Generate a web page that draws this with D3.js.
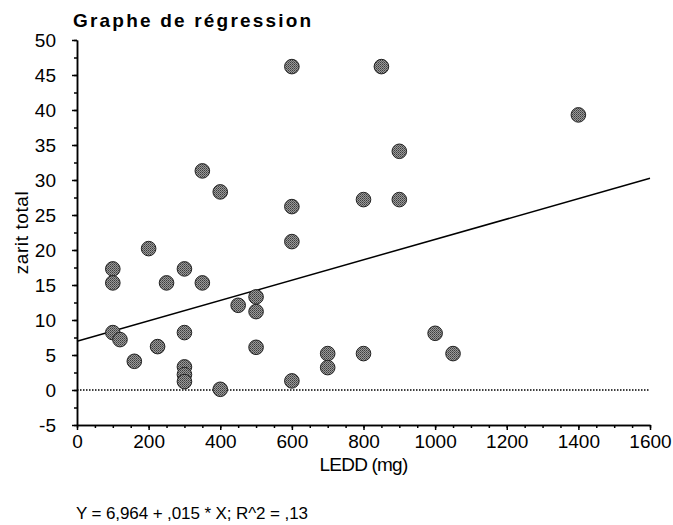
<!DOCTYPE html>
<html>
<head>
<meta charset="utf-8">
<script src="https://cdn.jsdelivr.net/npm/d3@7"></script>
<style>
  html, body { margin: 0; padding: 0; background: #fff; }
  svg { display: block; font-family: "Liberation Sans", Arial, sans-serif; }
  .axis path, .axis line { stroke: #000; stroke-width: 1.5; }
  .axis text { font-size: 19px; fill: #000; }
</style>
</head>
<body>
<svg id="chart" width="673" height="525"></svg>
<script>
const ledd = [100, 100, 100, 120, 160, 200, 225, 250, 300, 300, 300, 300, 300, 350,
  350, 400, 400, 450, 500, 500, 500, 600, 600, 600, 600, 700, 700, 800, 800, 850,
  900, 900, 1000, 1050, 1400];
const zarit = [17.3, 15.3, 8.2, 7.2, 4.1, 20.2, 6.2, 15.3, 17.3, 8.2, 3.3, 2.2, 1.2, 15.3,
  31.3, 28.3, 0.1, 12.1, 13.3, 11.2, 6.1, 46.2, 26.2, 21.2, 1.3, 5.2, 3.2, 27.2, 5.2, 46.2,
  34.1, 27.2, 8.1, 5.2, 39.3];

const xTicks = [0, 200, 400, 600, 800, 1000, 1200, 1400, 1600];
const yTicks = [-5, 0, 5, 10, 15, 20, 25, 30, 35, 40, 45, 50];
const intercept = 6.964;
const slope = 0.01455;

const svg = d3.select("#chart");
const x = d3.scaleLinear().domain([0, 1600]).range([77, 650]);
const y = d3.scaleLinear().domain([-5, 50]).range([425, 40]);
const plain = d => String(d);

// stippled grey fill for the dots
const pat = svg.append("defs").append("pattern")
  .attr("id", "stip").attr("patternUnits", "userSpaceOnUse")
  .attr("width", 2).attr("height", 2);
pat.append("rect").attr("width", 2).attr("height", 2).attr("fill", "#9a9a9a");
pat.append("rect").attr("width", 1).attr("height", 1).attr("fill", "#3c3c3c");
pat.append("rect").attr("x", 1).attr("y", 1).attr("width", 1).attr("height", 1).attr("fill", "#5a5a5a");

// minor ticks
svg.append("g").attr("class", "axis")
  .attr("transform", `translate(0,${y(-5)})`)
  .call(d3.axisBottom(x).tickValues(d3.range(0, 1601, 50)).tickSize(3).tickFormat("").tickSizeOuter(0));
svg.append("g").attr("class", "axis")
  .attr("transform", `translate(${x(0)},0)`)
  .call(d3.axisLeft(y).tickValues(d3.range(-5, 50.1, 2.5)).tickSize(3).tickFormat("").tickSizeOuter(0));

// major ticks
svg.append("g").attr("class", "axis")
  .attr("transform", `translate(0,${y(-5)})`)
  .call(d3.axisBottom(x).tickValues(xTicks).tickSize(5).tickPadding(5).tickFormat(plain).tickSizeOuter(0));
svg.append("g").attr("class", "axis")
  .attr("transform", `translate(${x(0)},0)`)
  .call(d3.axisLeft(y).tickValues(yTicks).tickSize(5).tickPadding(16).tickFormat(plain).tickSizeOuter(0));

// zero reference line
svg.append("line")
  .attr("x1", x(0)).attr("x2", x(1600))
  .attr("y1", y(0)).attr("y2", y(0))
  .attr("stroke", "#000").attr("stroke-width", 1.5)
  .attr("stroke-dasharray", "1.5,1.5");

// regression line
svg.append("line")
  .attr("x1", x(0)).attr("x2", x(1600))
  .attr("y1", y(intercept)).attr("y2", y(intercept + slope * 1600))
  .attr("stroke", "#000").attr("stroke-width", 1.5);

svg.append("g").selectAll("circle")
  .data(ledd.map((d, i) => [d, zarit[i]]))
  .join("circle")
  .attr("cx", d => x(d[0]))
  .attr("cy", d => y(d[1]))
  .attr("r", 7.3)
  .attr("fill", "url(#stip)")
  .attr("stroke", "#222")
  .attr("stroke-width", 1);

svg.append("text")
  .attr("x", 73).attr("y", 27)
  .attr("font-size", 19).attr("font-weight", "bold")
  .attr("letter-spacing", 2.2)
  .text("Graphe de régression");

svg.append("text")
  .attr("transform", `translate(28,${y(22.5)}) rotate(-90)`)
  .attr("text-anchor", "middle")
  .attr("font-size", 19)
  .attr("letter-spacing", 0.6)
  .text("zarit total");

svg.append("text")
  .attr("x", x(800)).attr("y", 471)
  .attr("text-anchor", "middle")
  .attr("font-size", 19)
  .attr("letter-spacing", -0.8)
  .text("LEDD (mg)");

svg.append("text")
  .attr("x", 76).attr("y", 519)
  .attr("font-size", 17)
  .attr("letter-spacing", -0.1)
  .text("Y = 6,964 + ,015 * X; R^2 = ,13");
</script>
</body>
</html>
